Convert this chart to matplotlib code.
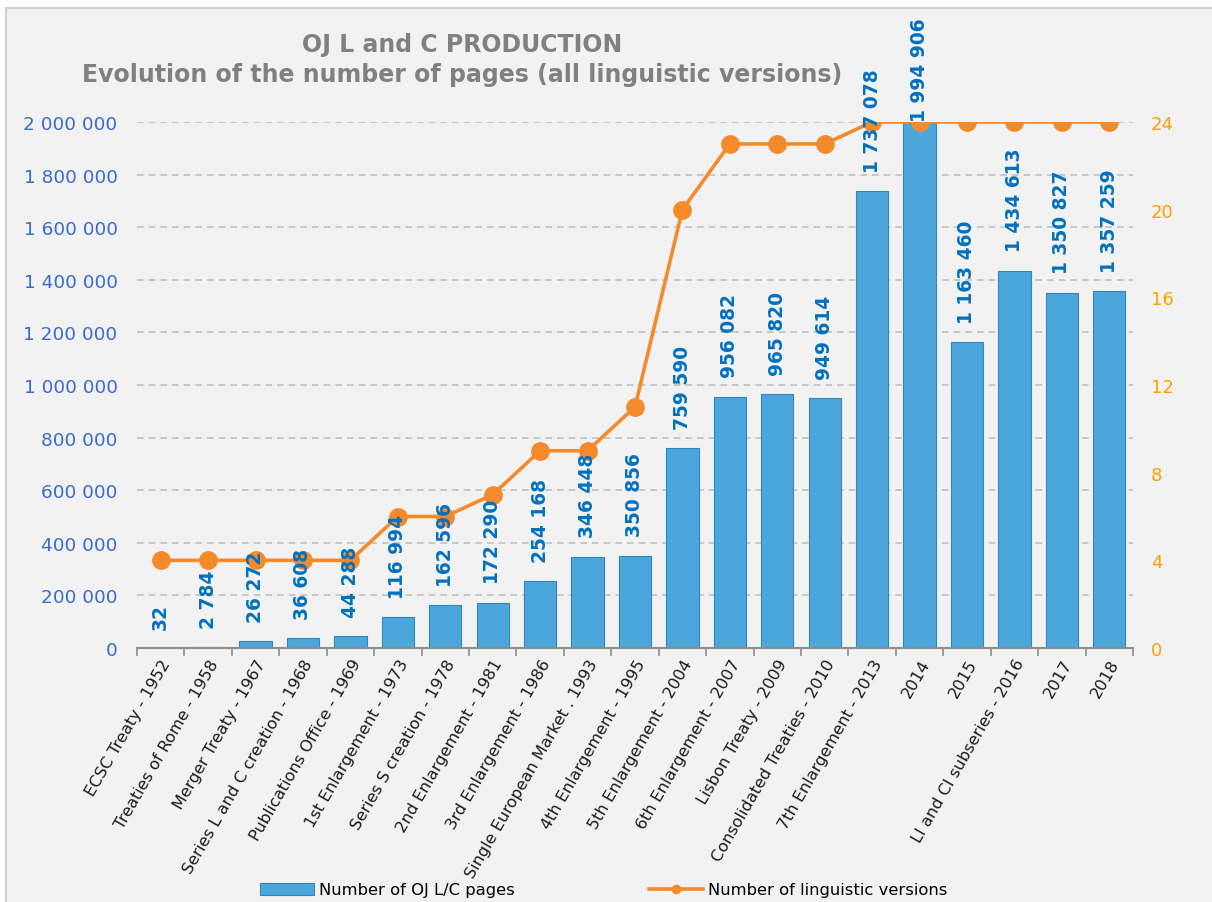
import matplotlib.pyplot as plt
from matplotlib.patches import Rectangle
from matplotlib.lines import Line2D
from matplotlib.ticker import FuncFormatter, FixedLocator

categories = ["ECSC Treaty - 1952", "Treaties of Rome - 1958", "Merger Treaty - 1967",
              "Series L and C creation - 1968", "Publications Office - 1969",
              "1st Enlargement - 1973", "Series S creation - 1978", "2nd Enlargement - 1981",
              "3rd Enlargement - 1986", "Single European Market . 1993",
              "4th Enlargement - 1995", "5th Enlargement - 2004", "6th Enlargement - 2007",
              "Lisbon Treaty - 2009", "Consolidated Treaties - 2010", "7th Enlargement - 2013",
              "2014", "2015", "LI and CI subseries - 2016", "2017", "2018"]
pages = [32, 2784, 26272, 36608, 44288, 116994, 162596, 172290, 254168, 346448,
         350856, 759590, 956082, 965820, 949614, 1737078, 1994906, 1163460,
         1434613, 1350827, 1357259]
versions = [4, 4, 4, 4, 4, 6, 6, 7, 9, 9, 11, 20, 23, 23, 23, 24, 24, 24, 24, 24, 24]

n = len(pages)

bar_color = "#4BA6DB"
bar_edge = "#2F86C0"
line_color = "#F58A2A"
left_color = "#3A6CD0"
right_color = "#FFA000"
label_color = "#0070C0"


def spaced(v, pos=None):
    return f"{int(v):,}".replace(",", " ")


fig = plt.figure(figsize=(12.12, 9.03), dpi=100)
fig.patch.set_facecolor("white")
fig.add_artist(Rectangle((6 / 1212, -0.01), 1.0, (903 - 9) / 903 + 0.01,
                         transform=fig.transFigure, facecolor="#F2F2F2",
                         edgecolor="#D0D0D0", lw=1.5, zorder=-10))

ax = fig.add_axes([137 / 1212, 254 / 903, 996 / 1212, 526 / 903])
ax.set_facecolor("none")
ax2 = ax.twinx()

x = list(range(n))
ax.bar(x, pages, width=0.68, color=bar_color, edgecolor=bar_edge, lw=0.8, zorder=2)
ax.set_xlim(-0.5, n - 0.5)
ax.set_ylim(0, 2000000)
ax.set_yticks(range(0, 2000001, 200000))
ax.yaxis.set_major_formatter(FuncFormatter(spaced))
ax.tick_params(axis="y", length=0, pad=14, labelsize=13.3, labelcolor=left_color)
ax.yaxis.grid(True, color="#C0C0C0", lw=1.2, linestyle=(0, (4, 3)))
ax.set_axisbelow(True)

ax.set_xticks(x)
ax.set_xticklabels(categories, rotation=60, ha="right", rotation_mode="anchor",
                   fontsize=11.6, color="#1A1A1A")
ax.tick_params(axis="x", which="major", length=0, pad=6)
ax.xaxis.set_minor_locator(FixedLocator([i - 0.5 for i in range(n + 1)]))
ax.tick_params(axis="x", which="minor", length=6, color="#8C8C8C", width=1.2)

for s in ["top", "left", "right"]:
    ax.spines[s].set_visible(False)
    ax2.spines[s].set_visible(False)
ax.spines["bottom"].set_color("#8C8C8C")
ax.spines["bottom"].set_linewidth(1.5)
ax2.spines["bottom"].set_visible(False)

ax2.plot(x, versions, color=line_color, lw=2.6, marker="o", markersize=12.5, zorder=3)
ax2.set_ylim(0, 24)
ax2.set_yticks(range(0, 25, 4))
ax2.tick_params(axis="y", length=0, pad=13, labelsize=13, labelcolor=right_color)

offset = 14
labels = []
for i, v in enumerate(pages):
    t = ax2.annotate(spaced(v), (i, v), xycoords=ax.transData, xytext=(0, offset),
                     textcoords="offset points", rotation=90, ha="center", va="bottom",
                     fontsize=13.4, fontweight="bold", color=label_color, zorder=5)
    labels.append(t)

fig.text(0.381, 1 - 45 / 903, "OJ L and C PRODUCTION", ha="center", va="center",
         fontsize=17, fontweight="bold", color="#808080")
fig.text(0.381, 1 - 75 / 903, "Evolution of the number of pages (all linguistic versions)",
         ha="center", va="center", fontsize=17, fontweight="bold", color="#808080")

handles = [Rectangle((0, 0), 1, 1, facecolor=bar_color, edgecolor=bar_edge, lw=0.8),
           Line2D([], [], color=line_color, lw=2.6, marker="o", markersize=6)]
fig.legend(handles, ["Number of OJ L/C pages", "Number of linguistic versions"],
           loc="center", bbox_to_anchor=(0.498, 12 / 903), ncol=2, frameon=False,
           fontsize=11.8, handlelength=3.3, handleheight=0.7, columnspacing=8.2,
           handletextpad=0.3)

# keep data labels inside the chart area, like the original
fig.canvas.draw()
renderer = fig.canvas.get_renderer()
top_limit = fig.bbox.height - 18
for t in labels:
    bb = t.get_window_extent(renderer)
    if bb.y1 > top_limit:
        shift = (bb.y1 - top_limit) * 72 / fig.dpi
        t.xyann = (0, offset - shift)

fig.savefig("out.png", dpi=100, facecolor=fig.get_facecolor())
